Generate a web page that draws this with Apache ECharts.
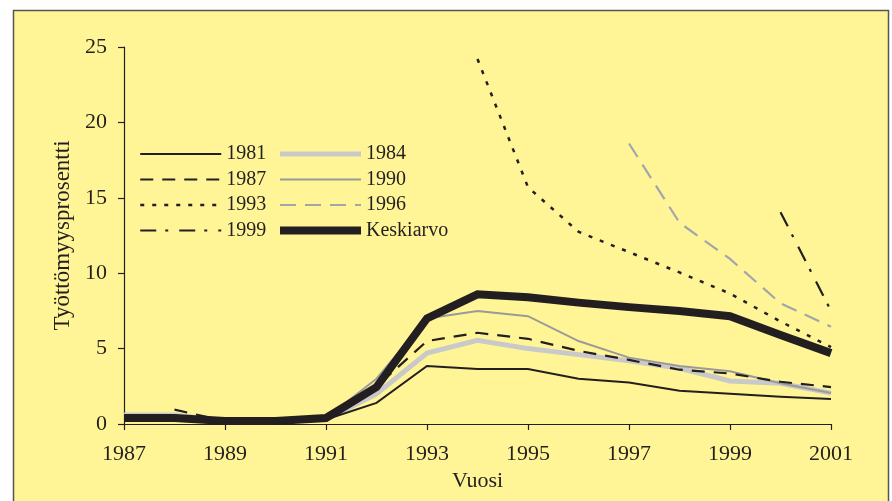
<!DOCTYPE html>
<html><head><meta charset="utf-8">
<script src="https://cdn.jsdelivr.net/npm/echarts@6/dist/echarts.min.js"></script>
<style>html,body{margin:0;padding:0;background:#fff;}#c{width:892px;height:501px;}</style>
</head><body><div id="c"></div>
<script>
const years = ['1987','1988','1989','1990','1991','1992','1993','1994','1995','1996','1997','1998','1999','2000','2001'];
const yTicks = [0,5,10,15,20,25];
const s1981 = [0.3,0.3,0.1,0.1,0.3,1.4,3.85,3.65,3.65,3.0,2.75,2.2,2.0,1.8,1.65];
const s1984 = [0.6,0.6,0.2,0.2,0.3,2.0,4.7,5.55,5.0,4.6,4.2,3.7,2.85,2.7,2.05];
const s1987 = [null,0.95,0.2,0.2,0.3,2.5,5.5,6.05,5.65,4.85,4.25,3.6,3.35,2.8,2.45];
const s1990 = [null,null,null,null,0.4,3.0,7.0,7.5,7.15,5.5,4.4,3.85,3.5,2.7,2.05];
const s1993 = [null,null,null,null,null,null,null,24.2,15.7,12.75,11.4,10.05,8.65,6.8,5.1];
const s1996 = [null,null,null,null,null,null,null,null,null,null,18.6,13.35,10.95,8.0,6.45];
const s1999 = [null,null,null,null,null,null,null,null,null,null,null,null,null,14.05,7.5];
const sMean = [0.4,0.4,0.2,0.2,0.4,2.45,7.0,8.6,8.4,8.05,7.75,7.5,7.15,5.9,4.7];

const BLK = '#231f20';
const FONT = '"Liberation Serif", "DejaVu Serif", serif';
const styles = {
  '1981': {color: BLK, width: 2, type: 'solid'},
  '1984': {color: '#c9c9c9', width: 5, type: 'solid'},
  '1987': {color: BLK, width: 2.2, type: [13, 9]},
  '1990': {color: '#9a9a9a', width: 2, type: 'solid'},
  '1993': {color: BLK, width: 2.5, type: [4, 8]},
  '1996': {color: '#a3a5ad', width: 2.2, type: [16, 9]},
  '1999': {color: BLK, width: 2.2, type: [16, 9, 3, 11]},
  'Keskiarvo': {color: BLK, width: 8, type: 'solid'}
};
const seriesData = {'1981': s1981, '1984': s1984, '1987': s1987, '1990': s1990, '1993': s1993, '1996': s1996, '1999': s1999, 'Keskiarvo': sMean};
const drawOrder = ['1984','1981','1990','1987','1993','1996','1999','Keskiarvo'];

function mk(name) {
  const st = styles[name];
  return {name: name, type: 'line', data: seriesData[name], symbol: 'none', showSymbol: false,
    color: st.color, lineStyle: {color: st.color, width: st.width, type: st.type, cap: 'butt', join: 'miter'},
    connectNulls: false, animation: false};
}
function legend(names, left) {
  return {orient: 'vertical', left: left, top: 144, padding: 0, itemWidth: 81, itemHeight: 14, itemGap: 5.5,
    data: names.map(n => ({name: n,
      lineStyle: {color: styles[n].color, width: styles[n].width, type: styles[n].type},
      itemStyle: {color: 'rgba(0,0,0,0)', opacity: 0, borderWidth: 0}})),
    selectedMode: false,
    textStyle: {fontFamily: FONT, fontSize: 20, color: BLK, lineHeight: 20}};
}

const chart = echarts.init(document.getElementById('c'), null, {renderer: 'canvas'});
chart.setOption({
  animation: false,
  backgroundColor: '#ffffff',
  graphic: [{type: 'rect', z: -10, silent: true, shape: {x: 13.5, y: 10.5, width: 875, height: 500},
    style: {fill: '#fff596', stroke: '#555555', lineWidth: 1.5}}],
  grid: {left: 124, right: 61, top: 47, bottom: 77, containLabel: false},
  legend: [legend(['1981','1987','1993','1999'], 139), legend(['1984','1990','1996','Keskiarvo'], 276)],
  xAxis: {type: 'category', data: years, boundaryGap: false,
    name: 'Vuosi', nameLocation: 'middle', nameGap: 40,
    nameTextStyle: {fontFamily: FONT, fontSize: 22, color: BLK},
    axisLine: {lineStyle: {color: BLK, width: 1.2}},
    axisTick: {interval: 1, length: 6, inside: false, lineStyle: {color: BLK, width: 1.2}},
    axisLabel: {interval: 1, margin: 19, fontFamily: FONT, fontSize: 22, color: BLK},
    splitLine: {show: false}},
  yAxis: {type: 'value', min: 0, max: 25, interval: 5,
    name: 'Työttömyysprosentti', nameLocation: 'middle', nameGap: 41, nameRotate: 90,
    nameTextStyle: {fontFamily: FONT, fontSize: 23, color: BLK},
    axisLine: {show: true, lineStyle: {color: BLK, width: 1.2}},
    axisTick: {show: true, length: 6, lineStyle: {color: BLK, width: 1.2}},
    axisLabel: {margin: 17, fontFamily: FONT, fontSize: 22, color: BLK,
      formatter: v => yTicks.indexOf(v) >= 0 ? String(v) : ''},
    splitLine: {show: false}},
  series: drawOrder.map(mk)
});
</script></body></html>
